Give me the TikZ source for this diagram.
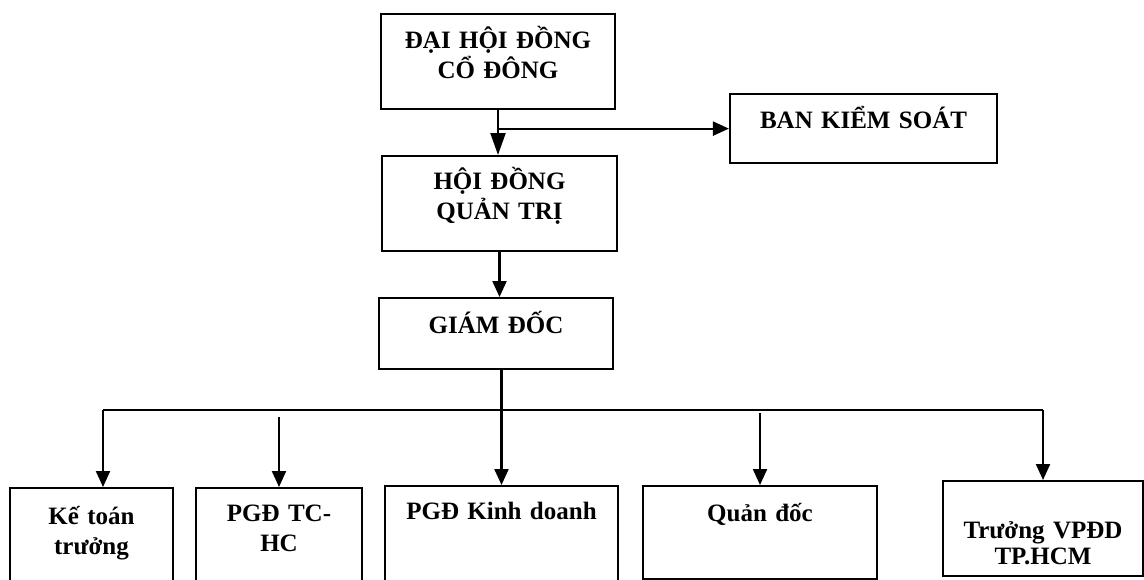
\documentclass[tikz,border=0pt]{standalone}
\usepackage{fontspec}
\setmainfont{Liberation Serif}
\usetikzlibrary{arrows.meta,calc}
\tikzset{
  box/.style={rectangle,draw=black,line width=1.1pt,font=\fontsize{12.5}{15}\selectfont\bfseries,
              align=center,anchor=north,inner xsep=0pt,inner ysep=0pt,text height=17pt},
  wire/.style={draw=black,line width=1.1pt},
  arr/.style={wire,-{Triangle[length=8pt,width=7pt]}},
}
\begin{document}
\begin{tikzpicture}[x=.5pt,y=-.5pt]
\useasboundingbox (0,0) rectangle (1144,579);
% Upper chain of command.
\node[box,text width=117pt,text depth=30.5pt] (dhcd) at (498,13) {ĐẠI HỘI ĐỒNG\\CỔ ĐÔNG};
\node[box,text width=133.5pt,text depth=17.5pt] (bks) at (863.5,93) {BAN KIỂM SOÁT};
\node[box,text width=117.5pt,text height=16.5pt,text depth=31pt] (hdqt) at (499.5,155) {HỘI ĐỒNG\\QUẢN TRỊ};
\node[box,text width=117pt,text height=17.5pt,text depth=18pt] (gd) at (496,297) {GIÁM ĐỐC};
% Departments; the first three run off the page at the bottom.
\node[box,text width=81.5pt,text height=18pt,text depth=50pt] (kt) at (91.5,487) {Kế toán\\trưởng};
\node[box,text width=83pt,text height=16.5pt,text depth=50pt] (tchc) at (279,487) {PGĐ TC-\\HC};
\node[box,text width=116.5pt,text height=16.5pt,text depth=50pt] (kd) at (501.5,485) {PGĐ Kinh doanh};
\node[box,text width=117pt,text height=17.5pt,text depth=29pt] (qd) at (760,485) {Quản đốc};
\node[box,text width=100pt,text height=28.5pt,text depth=19pt,font=\fontsize{12.5}{13}\selectfont\bfseries] (vp) at (1043,480) {Trưởng VPĐD\\TP.HCM};
% Connectors.
\draw[arr,-{Triangle[length=11pt,width=7.5pt]}] (dhcd.south) -- (dhcd.south |- hdqt.north);
\draw[arr] (dhcd.south |- bks.west) -- (bks.west);
\draw[arr] (hdqt.south) -- (hdqt.south |- gd.north);
\coordinate (bus) at (0,410);
\coordinate (ktin) at ([xshift=5.75pt]kt.north);
\draw[wire] (ktin |- bus) -- (vp.north |- bus);
\draw[arr] (gd.south -| kd.north) -- (kd.north);
\draw[arr] (ktin |- bus) -- (ktin);
\draw[arr] ([yshift=-3.5pt]tchc.north |- bus) -- (tchc.north);
\draw[arr] ([yshift=-1.5pt]qd.north |- bus) -- (qd.north);
\draw[arr] (vp.north |- bus) -- (vp.north);
\end{tikzpicture}
\end{document}
